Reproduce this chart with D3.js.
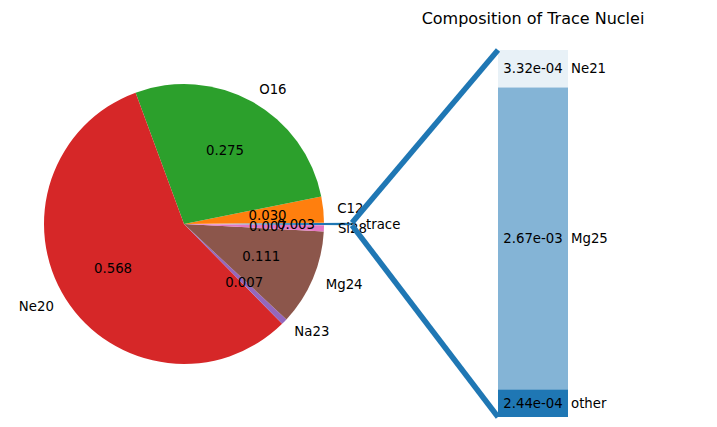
<!DOCTYPE html>
<html>
<head>
<meta charset="utf-8">
<script src="https://cdn.jsdelivr.net/npm/d3@7"></script>
<style>
  body { margin: 0; background: #fff; }
  text { font-family: "DejaVu Sans", sans-serif; fill: #000; }
</style>
</head>
<body>
<div id="container"></div>
<script>
/* CONSTANTS AND GLOBALS */
const width = 717,
  height = 427

// pie data (drawn counterclockwise from 3 o'clock, like matplotlib)
const pieLabels = ["trace", "C12", "O16", "Ne20", "Na23", "Mg24", "Si28"]
const pieValues = [0.003, 0.030, 0.275, 0.568, 0.007, 0.111, 0.007]
const pieColors = ["#1f77b4", "#ff7f0e", "#2ca02c", "#d62728", "#9467bd", "#8c564b", "#e377c2"]
const pieExplode = [0.2, 0, 0, 0, 0, 0, 0]

// bar of trace nuclei, bottom to top
const barLabels = ["other", "Mg25", "Ne21"]
const barValues = [0.000244, 0.00267, 0.000332]
const barAlpha = [1.0, 0.55, 0.1]

const cx = 184, cy = 224, r = 140
const total = d3.sum(pieValues)

// start so that the trace slice is centred on 3 o'clock
const startMpl = -Math.PI * pieValues[0] / total
const start = Math.PI / 2 - startMpl

const svg = d3.select("#container")
  .append("svg")
  .attr("width", width)
  .attr("height", height)

const pie = d3.pie()
  .sort(null)
  .value(d => d.value)
  .startAngle(start)
  .endAngle(start - 2 * Math.PI)

const rows = pieLabels.map((l, i) => ({ label: l, value: pieValues[i], color: pieColors[i], explode: pieExplode[i] }))
const arcs = pie(rows)

const arc = d3.arc().innerRadius(0).outerRadius(r)

// helper: point at a given d3 angle and radius
const pt = (a, rad) => [Math.sin(a) * rad, -Math.cos(a) * rad]

arcs.forEach(a => {
  const mid = (a.startAngle + a.endAngle) / 2
  const off = pt(mid, a.data.explode * r)
  a.cx = cx + off[0]
  a.cy = cy + off[1]
  a.mid = mid
})

const pieG = svg.append("g")

pieG.selectAll("path")
  .data(arcs)
  .join("path")
  .attr("transform", d => `translate(${d.cx},${d.cy})`)
  .attr("fill", d => d.data.color)
  .attr("d", arc)

// outer labels
pieG.selectAll(".lbl")
  .data(arcs)
  .join("text")
  .attr("class", "lbl")
  .attr("x", d => d.cx + pt(d.mid, 1.1 * r)[0])
  .attr("y", d => d.cy + pt(d.mid, 1.1 * r)[1])
  .attr("text-anchor", d => Math.sin(d.mid) >= 0 ? "start" : "end")
  .attr("dominant-baseline", "central")
  .style("font-size", "13.3px")
  .text(d => d.data.label)

// percentage labels
pieG.selectAll(".pct")
  .data(arcs)
  .join("text")
  .attr("class", "pct")
  .attr("x", d => d.cx + pt(d.mid, 0.6 * r)[0])
  .attr("y", d => d.cy + pt(d.mid, 0.6 * r)[1])
  .attr("text-anchor", "middle")
  .attr("dominant-baseline", "central")
  .style("font-size", "13.3px")
  .text(d => d3.format(".3f")(d.data.value))

// BAR
const barTotal = d3.sum(barValues)
const yScale = d3.scaleLinear()
  .domain([0, barTotal])
  .range([417, 50])
const xScale = d3.scaleLinear()
  .domain([-0.5, 0.5])
  .range([498, 568])

const stack = []
let acc = 0
barValues.forEach((v, i) => {
  stack.push({ label: barLabels[i], value: v, y0: acc, y1: acc + v, alpha: barAlpha[i] })
  acc += v
})

const expFmt = v => {
  const s = v.toExponential(2)
  return s.replace(/e([+-])(\d)$/, "e$10$2")
}

svg.selectAll(".bar")
  .data(stack)
  .join("rect")
  .attr("class", "bar")
  .attr("x", xScale(-0.5))
  .attr("width", xScale(0.5) - xScale(-0.5))
  .attr("y", d => yScale(d.y1))
  .attr("height", d => yScale(d.y0) - yScale(d.y1))
  .attr("fill", "#1f77b4")
  .attr("fill-opacity", d => d.alpha)

svg.selectAll(".barval")
  .data(stack)
  .join("text")
  .attr("class", "barval")
  .attr("x", xScale(0))
  .attr("y", d => (yScale(d.y0) + yScale(d.y1)) / 2)
  .attr("text-anchor", "middle")
  .attr("dominant-baseline", "central")
  .style("font-size", "13.3px")
  .text(d => expFmt(d.value))

svg.selectAll(".barlbl")
  .data(stack)
  .join("text")
  .attr("class", "barlbl")
  .attr("x", xScale(0.5) + 3)
  .attr("y", d => (yScale(d.y0) + yScale(d.y1)) / 2)
  .attr("dominant-baseline", "central")
  .style("font-size", "13.3px")
  .text(d => d.label)

svg.append("text")
  .attr("x", xScale(0))
  .attr("y", 18)
  .attr("text-anchor", "middle")
  .attr("dominant-baseline", "central")
  .style("font-size", "16px")
  .text("Composition of Trace Nuclei")

// CONNECTING LINES from the trace wedge to the bar
const tw = arcs[0]
const topPt = [tw.cx + pt(tw.endAngle, r)[0], tw.cy + pt(tw.endAngle, r)[1]]
const botPt = [tw.cx + pt(tw.startAngle, r)[0], tw.cy + pt(tw.startAngle, r)[1]]

svg.append("line")
  .attr("x1", xScale(-0.5)).attr("y1", yScale(barTotal))
  .attr("x2", topPt[0]).attr("y2", topPt[1])
  .attr("stroke", "#1f77b4")
  .attr("stroke-width", 5.5)

svg.append("line")
  .attr("x1", xScale(-0.5)).attr("y1", yScale(0))
  .attr("x2", botPt[0]).attr("y2", botPt[1])
  .attr("stroke", "#1f77b4")
  .attr("stroke-width", 5.5)
</script>
</body>
</html>
